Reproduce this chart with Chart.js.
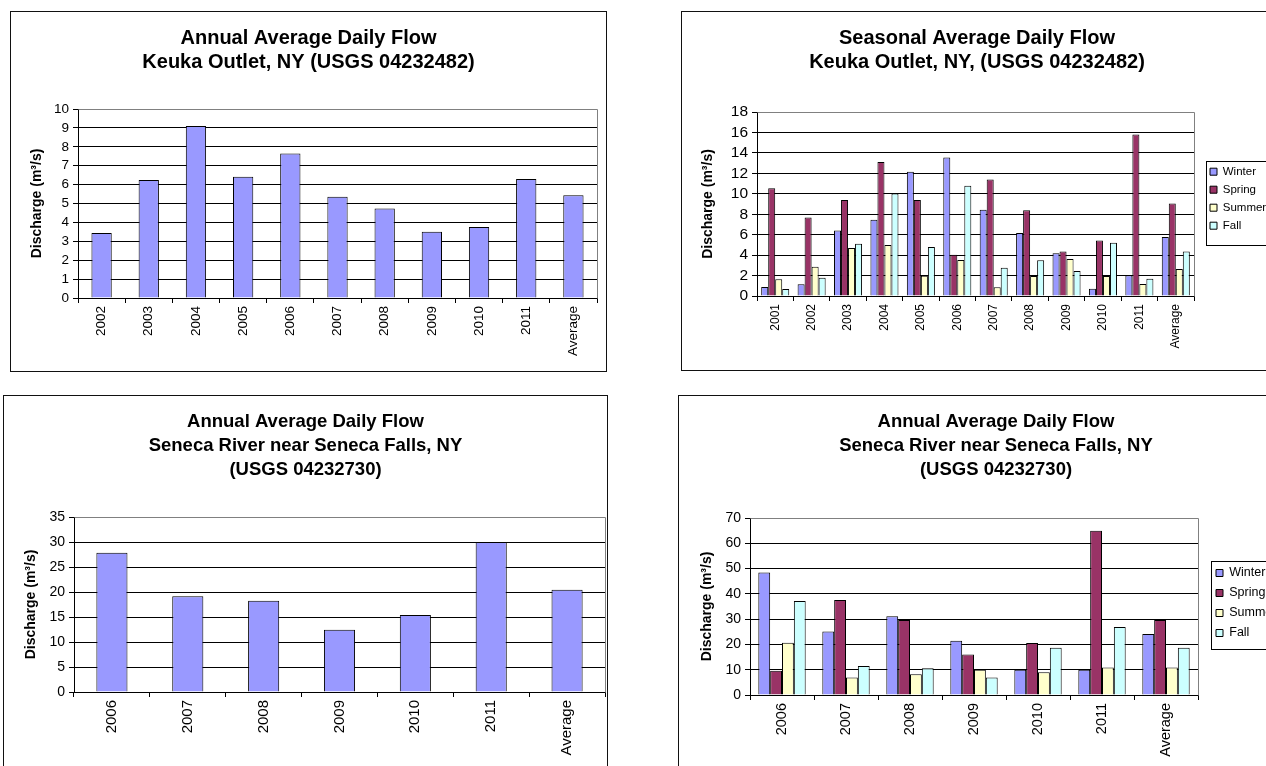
<!DOCTYPE html>
<html><head><meta charset="utf-8">
<script src="https://cdn.jsdelivr.net/npm/chart.js@4/dist/chart.umd.min.js"></script>
<style>
html,body{margin:0;padding:0;background:#fff;width:1266px;height:766px;overflow:hidden;position:relative}
canvas{position:absolute}
.frame{position:absolute;border:1px solid #111;box-sizing:border-box;pointer-events:none}
</style></head><body>
<canvas id="c1"></canvas><canvas id="c2"></canvas><canvas id="c3"></canvas><canvas id="c4"></canvas>
<script>
// ---------------- DATA ----------------
const keukaYears = ['2002','2003','2004','2005','2006','2007','2008','2009','2010','2011','Average'];
const keukaAnnual = [3.44, 6.24, 9.1, 6.42, 7.64, 5.36, 4.73, 3.51, 3.76, 6.3, 5.43];

const keukaSeasonYears = ['2001','2002','2003','2004','2005','2006','2007','2008','2009','2010','2011','Average'];
const keukaWinter = [0.88, 1.14, 6.41, 7.46, 12.15, 13.55, 8.43, 6.16, 4.17, 0.72, 2.02, 5.77];
const keukaSpring = [10.55, 7.68, 9.38, 13.12, 9.38, 4.04, 11.4, 8.4, 4.36, 5.44, 15.8, 9.06];
const keukaSummer = [1.63, 2.87, 4.69, 4.98, 1.99, 3.52, 0.85, 1.95, 3.62, 1.95, 1.17, 2.64];
const keukaFall   = [0.68, 1.79, 5.11, 10.03, 4.79, 10.78, 2.77, 3.49, 2.44, 5.21, 1.69, 4.36];

const senecaYears = ['2006','2007','2008','2009','2010','2011','Average'];
const senecaAnnual = [27.87, 19.13, 18.27, 12.47, 15.4, 30.0, 20.47];

const senecaWinter = [48.4, 25.1, 31.1, 21.5, 10.0, 10.0, 24.1];
const senecaSpring = [9.6, 37.6, 29.7, 16.0, 20.6, 65.0, 29.7];
const senecaSummer = [20.7, 6.9, 8.2, 10.0, 9.0, 10.9, 10.9];
const senecaFall   = [37.2, 11.5, 10.6, 6.9, 18.7, 26.9, 18.7];

const seasonNames = ['Winter', 'Spring', 'Summer', 'Fall'];
const yAxisLabel = 'Discharge (m³/s)';

// ---------------- STYLE ----------------
const FONT = "'Liberation Sans', Arial, Helvetica, sans-serif";
const seasonColors = ['#9999FF', '#993366', '#FFFFCC', '#CCFFFF'];
const annualColor = '#9999FF';

function alignPx(p) { return Math.round(p - 0.5) + 0.5; }

const plotFramePlugin = {
  id: 'plotFrame',
  beforeDraw(chart) {
    const tb = chart.titleBlock;
    if (tb) { tb.left = 0; tb.right = chart.width; }
  },
  beforeDatasetsDraw(chart) {
    const {ctx, chartArea: a} = chart;
    ctx.save();
    ctx.strokeStyle = '#808080';
    ctx.lineWidth = 1;
    ctx.beginPath();
    const t = alignPx(a.top), r = alignPx(a.right), b = alignPx(a.bottom), l = alignPx(a.left);
    ctx.moveTo(l, t); ctx.lineTo(r, t); ctx.lineTo(r, b);
    ctx.stroke();
    ctx.restore();
  }
};

const legendFramePlugin = {
  id: 'legendFrame',
  beforeDraw(chart, args, opts) {
    const lg = chart.legend;
    if (!lg || !opts || opts.itemLeft == null || !lg.options.display) return;
    const hb = lg.legendHitBoxes;
    if (!hb || !hb.length) return;
    const dx = opts.itemLeft - hb[0].left;
    const dy = opts.firstCenter - (hb[0].top + hb[0].height / 2);
    lg.left += dx; lg.right += dx; lg.top += dy; lg.bottom += dy;
    hb.forEach(h => { h.left += dx; h.top += dy; });
  },
  afterDraw(chart, args, opts) {
    const lg = chart.legend;
    if (!lg || !opts || opts.itemLeft == null || !lg.options.display) return;
    const {ctx} = chart;
    ctx.save();
    ctx.strokeStyle = '#000';
    ctx.lineWidth = 1;
    const x0 = alignPx(opts.boxLeft);
    const y0 = alignPx(opts.boxTop);
    const y1 = alignPx(opts.boxBottom);
    ctx.strokeRect(x0, y0, chart.width + 20 - x0, y1 - y0);
    ctx.restore();
  }
};

function makeChart(id, spec) {
  const box = spec.box;
  const cv = document.getElementById(id);
  cv.width = box.w; cv.height = box.h;
  cv.style.left = box.x + 'px'; cv.style.top = box.y + 'px';
  cv.style.width = box.w + 'px'; cv.style.height = box.h + 'px';
  const fr = document.createElement('div');
  fr.className = 'frame';
  fr.style.left = box.x + 'px'; fr.style.top = box.y + 'px';
  fr.style.width = box.w + 'px'; fr.style.height = box.h + 'px';
  document.body.appendChild(fr);

  const L = spec.plot.l - box.x, T = spec.plot.t - box.y, R = spec.plot.r - box.x, B = spec.plot.b - box.y;
  const yTitleLH = 14 * 1.2;
  const yW = L - ((spec.yTitleX - box.x) - yTitleLH / 2);
  const layoutPad = {left: 0, right: 0, top: 0, bottom: 0};
  const titleLH = spec.titleLH;
  const titlePad = {top: (spec.titleFirst - box.y) - titleLH / 2, bottom: 30};

  const legendOpts = spec.legend ? {
    display: true, position: 'right', fullSize: false,
    labels: {boxWidth: 7, boxHeight: 7, padding: spec.legend.pad, color: '#000',
             font: {family: FONT, size: spec.legend.font}}
  } : {display: false};

  const cfg = {
    type: 'bar',
    data: {labels: spec.labels, datasets: spec.datasets},
    options: {
      responsive: false, maintainAspectRatio: false, animation: false,
      devicePixelRatio: 1,
      layout: {padding: layoutPad},
      datasets: {bar: {categoryPercentage: spec.catPct, barPercentage: spec.barPct}},
      plugins: {
        legend: legendOpts,
        tooltip: {enabled: false},
        title: {display: true, text: spec.title, color: '#000',
                font: {family: FONT, size: spec.titleSize, weight: 'bold', lineHeight: titleLH / spec.titleSize},
                padding: titlePad},
        legendFrame: spec.legend ? {
          itemLeft: spec.legend.itemLeft - box.x,
          firstCenter: spec.legend.firstCenter - box.y,
          boxLeft: spec.legend.boxLeft - box.x,
          boxTop: spec.legend.boxTop - box.y,
          boxBottom: spec.legend.boxBottom - box.y
        } : {}
      },
      scales: {
        x: {
          ticks: {minRotation: 90, maxRotation: 90, autoSkip: false, color: '#000', padding: 3,
                  font: {family: FONT, size: spec.xFont}},
          grid: {display: true, drawOnChartArea: false, drawTicks: true, tickLength: 5, color: '#000', offset: true},
          border: {display: true, color: '#000', width: 1},
          afterFit(s) { s.height = 80; }
        },
        y: {
          min: 0, max: spec.yMax,
          ticks: {stepSize: spec.yStep, autoSkip: false, color: '#000', padding: 4,
                  font: {family: FONT, size: spec.yFont}},
          grid: {color: '#000', lineWidth: 1, tickLength: 5, drawTicks: true},
          border: {display: true, color: '#000', width: 1},
          title: {display: true, text: yAxisLabel, color: '#000', padding: 0,
                  font: {family: FONT, size: 14, weight: 'bold', lineHeight: 1.2}},
          afterFit(s) { s.width = yW; }
        }
      }
    },
    plugins: [plotFramePlugin, legendFramePlugin]
  };
  const chart = new Chart(cv, cfg);
  for (let i = 0; i < 4; i++) {
    const ca = chart.chartArea;
    layoutPad.left += L - ca.left;
    layoutPad.right += ca.right - R;
    layoutPad.bottom += ca.bottom - B;
    titlePad.bottom += T - ca.top;
    chart.update('none');
  }
  return chart;
}

function seasonSets(w, sp, su, f) {
  return [w, sp, su, f].map((d, i) => ({
    label: seasonNames[i], data: d, backgroundColor: seasonColors[i],
    borderColor: '#000', borderWidth: 1
  }));
}

makeChart('c1', {
  box: {x: 10, y: 11, w: 597, h: 361},
  plot: {l: 78, t: 109, r: 597, b: 298},
  title: ['Annual Average Daily Flow', 'Keuka Outlet, NY (USGS 04232482)'],
  titleSize: 20, titleLH: 24, titleFirst: 38,
  yTitleX: 37, yMax: 10, yStep: 1, yFont: 13.5, xFont: 13.5,
  labels: keukaYears,
  datasets: [{label: 'Discharge', data: keukaAnnual, backgroundColor: annualColor, borderColor: '#000', borderWidth: 1}],
  catPct: 1, barPct: 0.43
});

makeChart('c2', {
  box: {x: 681, y: 11, w: 592, h: 360},
  plot: {l: 757, t: 112, r: 1194, b: 296},
  title: ['Seasonal Average Daily Flow', 'Keuka Outlet, NY, (USGS 04232482)'],
  titleSize: 20, titleLH: 24, titleFirst: 38,
  yTitleX: 708, yMax: 18, yStep: 2, yFont: 15.5, xFont: 12,
  labels: keukaSeasonYears,
  datasets: seasonSets(keukaWinter, keukaSpring, keukaSummer, keukaFall),
  catPct: 0.77, barPct: 1,
  legend: {pad: 6.5, font: 11.5, itemLeft: 1210, firstCenter: 171.7, boxLeft: 1206, boxTop: 161.5, boxBottom: 245}
});

makeChart('c3', {
  box: {x: 3, y: 395, w: 605, h: 400},
  plot: {l: 74, t: 517, r: 605, b: 692},
  title: ['Annual Average Daily Flow', 'Seneca River near Seneca Falls, NY', '(USGS 04232730)'],
  titleSize: 18.5, titleLH: 24, titleFirst: 422,
  yTitleX: 31, yMax: 35, yStep: 5, yFont: 14, xFont: 15,
  labels: senecaYears,
  datasets: [{label: 'Discharge', data: senecaAnnual, backgroundColor: annualColor, borderColor: '#000', borderWidth: 1}],
  catPct: 1, barPct: 0.41
});

makeChart('c4', {
  box: {x: 678, y: 395, w: 636, h: 400},
  plot: {l: 750, t: 518, r: 1198, b: 695},
  title: ['Annual Average Daily Flow', 'Seneca River near Seneca Falls, NY', '(USGS 04232730)'],
  titleSize: 18.5, titleLH: 24, titleFirst: 422,
  yTitleX: 707, yMax: 70, yStep: 10, yFont: 14, xFont: 14.5,
  labels: senecaYears,
  datasets: seasonSets(senecaWinter, senecaSpring, senecaSummer, senecaFall),
  catPct: 0.74, barPct: 1,
  legend: {pad: 7.5, font: 12.5, itemLeft: 1216, firstCenter: 573, boxLeft: 1211, boxTop: 561, boxBottom: 649}
});
</script>
</body></html>
